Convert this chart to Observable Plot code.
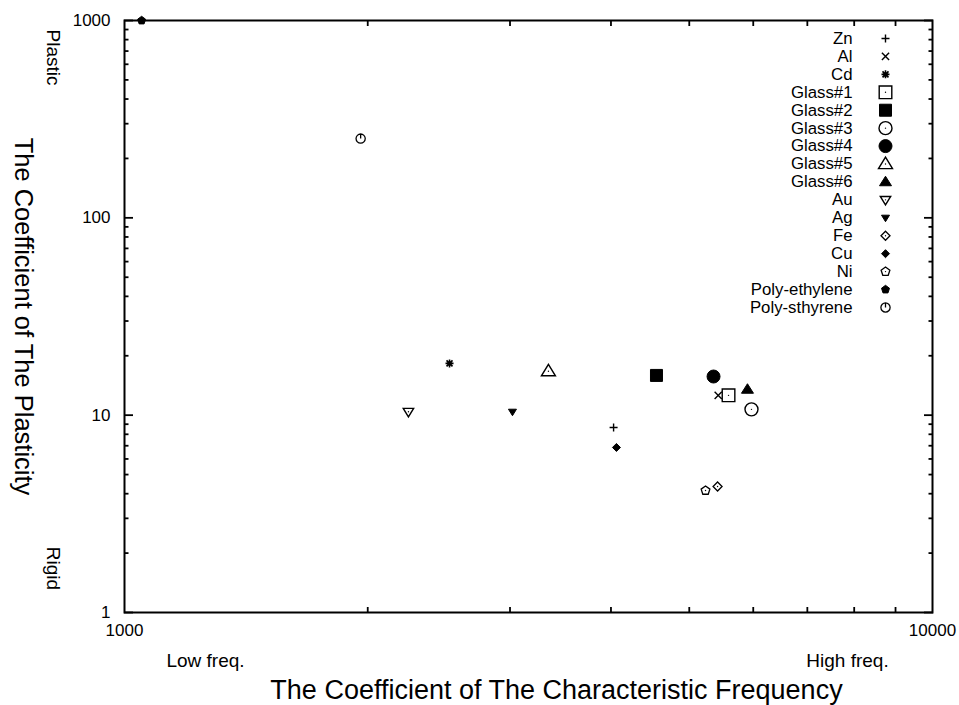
<!DOCTYPE html>
<html><head><meta charset="utf-8">
<script src="https://cdn.jsdelivr.net/npm/d3@7"></script>
<script src="https://cdn.jsdelivr.net/npm/@observablehq/plot@0.6"></script>
<style>body{margin:0;background:#fff;}</style>
</head><body><div id="chart"></div>
<script>
// ---- data ----
const materials = ["Zn","Al","Cd","Glass#1","Glass#2","Glass#3","Glass#4","Glass#5","Glass#6","Au","Ag","Fe","Cu","Ni","Poly-ethylene","Poly-sthyrene"];
const frequency = [4030, 5430, 2525, 5592, 4554, 5970, 5358, 3347, 5902, 2246, 3021, 5420, 4063, 5237, 1050, 1960];
const plasticity = [8.66, 12.6, 18.3, 12.6, 15.9, 10.7, 15.7, 16.7, 13.5, 10.4, 10.4, 4.35, 6.86, 4.15, 1000, 252];
const xTicks = [1000, 10000];
const xMinor = [2000, 3000, 4000, 5000, 6000, 7000, 8000, 9000];
const yTicks = [1, 10, 100, 1000];
const yMinor = [2, 3, 4, 5, 6, 7, 8, 9, 20, 30, 40, 50, 60, 70, 80, 90, 200, 300, 400, 500, 600, 700, 800, 900];
const xTitle = "The Coefficient of The Characteristic Frequency";
const yTitle = "The Coefficient of The Plasticity";

// ---- symbols ----
const shape = fn => ({draw: fn});
const S = {
  plus: h => shape(c => {c.moveTo(-h,0);c.lineTo(h,0);c.moveTo(0,-h);c.lineTo(0,h);}),
  times: h => shape(c => {c.moveTo(-h,-h);c.lineTo(h,h);c.moveTo(-h,h);c.lineTo(h,-h);}),
  asterisk: h => shape(c => {const d=h*0.75;c.moveTo(-h,0);c.lineTo(h,0);c.moveTo(0,-h);c.lineTo(0,h);c.moveTo(-d,-d);c.lineTo(d,d);c.moveTo(-d,d);c.lineTo(d,-d);}),
  square: h => shape(c => {c.rect(-h,-h,2*h,2*h);}),
  circle: h => shape(c => {c.moveTo(h,0);c.arc(0,0,h,0,2*Math.PI);c.closePath();}),
  triUp: (w,t) => shape(c => {c.moveTo(0,-t*0.6);c.lineTo(w,t*0.4);c.lineTo(-w,t*0.4);c.closePath();}),
  triDown: (w,t) => shape(c => {c.moveTo(0,t*0.6);c.lineTo(w,-t*0.4);c.lineTo(-w,-t*0.4);c.closePath();}),
  diamond: h => shape(c => {c.moveTo(0,-h);c.lineTo(h,0);c.lineTo(0,h);c.lineTo(-h,0);c.closePath();}),
  pentagon: h => shape(c => {for(let k=0;k<5;k++){const a=-Math.PI/2+k*2*Math.PI/5;const px=h*Math.cos(a),py=h*Math.sin(a);k?c.lineTo(px,py):c.moveTo(px,py);}c.closePath();}),
  circleTick: h => shape(c => {c.moveTo(h,0);c.arc(0,0,h,0,2*Math.PI);c.closePath();c.moveTo(0,-h);c.lineTo(0,0);})
};
// [symbol, filled, strokeWidth, centre dot]
const styles = [
  [S.plus(4), false, 1.4, false],
  [S.times(3.6), false, 1.4, false],
  [S.asterisk(4), false, 1.6, false],
  [S.square(6.3), false, 1.4, true],
  [S.square(6), true, 1, false],
  [S.circle(6.5), false, 1.4, true],
  [S.circle(6.5), true, 1, false],
  [S.triUp(7, 11.5), false, 1.4, true],
  [S.triUp(6, 9.5), true, 1, false],
  [S.triDown(5.2, 8.5), false, 1.4, true],
  [S.triDown(4, 6.5), true, 1, false],
  [S.diamond(4.5), false, 1.3, true],
  [S.diamond(4), true, 1, false],
  [S.pentagon(4.6), false, 1.3, true],
  [S.pentagon(4.2), true, 1, false],
  [S.circleTick(4.6), false, 1.3, false]
];

const idx = materials.map((_, i) => i);
const pointMarks = idx.flatMap(i => {
  const [sym, filled, sw, dot] = styles[i];
  const m = [Plot.dot([i], {x: j => frequency[j], y: j => plasticity[j], symbol: sym, r: 5,
    stroke: "black", fill: filled ? "black" : "none", strokeWidth: sw})];
  if (dot) m.push(Plot.dot([i], {x: j => frequency[j], y: j => plasticity[j], r: 0.7, fill: "black", stroke: "none"}));
  return m;
});
const rowH = 17.93;
const legendMarks = idx.flatMap(i => {
  const [sym, filled, sw, dot] = styles[i];
  const dy = 18 + i * rowH;
  const m = [
    Plot.text([materials[i]], {text: d => d, frameAnchor: "top-right", dx: -80, dy, textAnchor: "end", lineAnchor: "middle", fontSize: 16.8}),
    Plot.dot([i], {frameAnchor: "top-right", dx: -47, dy, symbol: sym, r: 5, stroke: "black", fill: filled ? "black" : "none", strokeWidth: sw})
  ];
  if (dot) m.push(Plot.dot([i], {frameAnchor: "top-right", dx: -47, dy, r: 0.7, fill: "black", stroke: "none"}));
  return m;
});
const ann = (txt, o) => Plot.text([txt], {text: d => d, textAnchor: "middle", lineAnchor: "middle", ...o});
const tk = {tickFormat: null, label: null, fill: "none", stroke: "black", strokeWidth: 1.8};

const chart = Plot.plot({
  width: 959, height: 705,
  marginLeft: 124, marginRight: 27, marginTop: 20, marginBottom: 93,
  x: {type: "log", domain: [1000, 10000]},
  y: {type: "log", domain: [1, 1000]},
  style: {fontFamily: "'Liberation Sans', Arial, sans-serif", fontSize: "17px", color: "black", background: "white"},
  marks: [
    Plot.frame({stroke: "black", strokeWidth: 2}),
    Plot.axisX(xMinor, {anchor: "bottom", tickSize: -5, ...tk}),
    Plot.axisX(xMinor, {anchor: "top", tickSize: -5, ...tk}),
    Plot.axisY(yTicks, {anchor: "left", tickSize: -9, ...tk}),
    Plot.axisY(yMinor, {anchor: "left", tickSize: -4.5, ...tk}),
    Plot.axisY(yTicks, {anchor: "right", tickSize: -9, ...tk}),
    Plot.axisY(yMinor, {anchor: "right", tickSize: -4.5, ...tk}),
    Plot.axisX(xTicks, {anchor: "bottom", tickSize: 0, tickPadding: 11, tickFormat: d => String(d), label: null, fontSize: 17}),
    Plot.axisY(yTicks, {anchor: "left", tickSize: 0, tickPadding: 14, tickFormat: d => String(d), label: null, fontSize: 17}),
    ann(xTitle, {frameAnchor: "bottom", dx: 28, dy: 78, fontSize: 27}),
    ann(yTitle, {frameAnchor: "left", dx: -101, dy: 0, rotate: 90, fontSize: 25.5}),
    ann("Plastic", {frameAnchor: "top-left", dx: -71, dy: 37, rotate: 90, fontSize: 19}),
    ann("Rigid", {frameAnchor: "bottom-left", dx: -71, dy: -44, rotate: 90, fontSize: 19}),
    ann("Low freq.", {frameAnchor: "bottom-left", dx: 81, dy: 48, fontSize: 19}),
    ann("High freq.", {frameAnchor: "bottom-right", dx: -85, dy: 48, fontSize: 19}),
    ...pointMarks,
    ...legendMarks
  ]
});
document.getElementById("chart").append(chart);
</script>
</body></html>
